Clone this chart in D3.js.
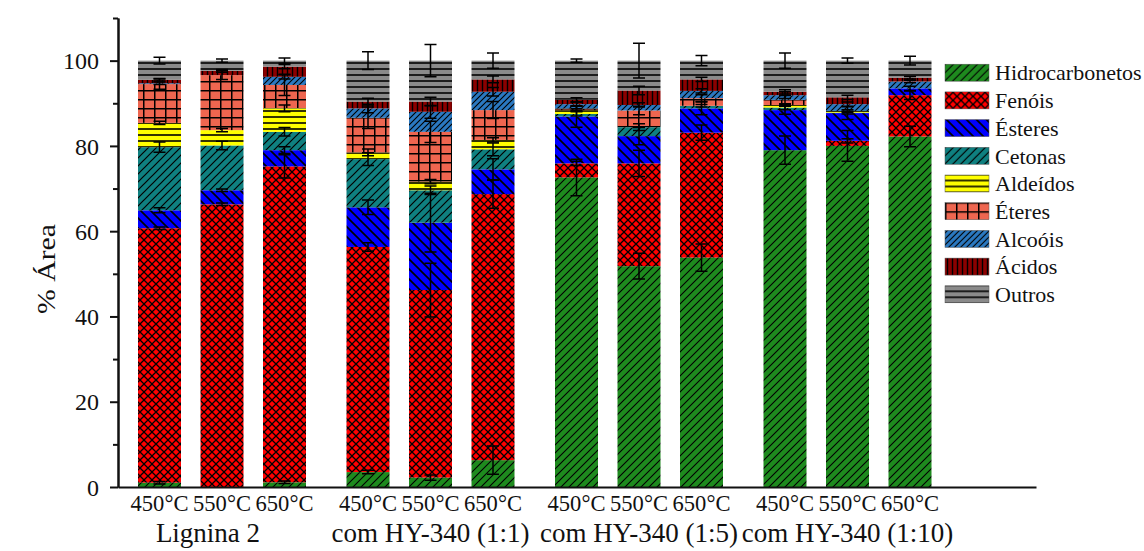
<!DOCTYPE html>
<html>
<head>
<meta charset="utf-8">
<script src="https://cdn.jsdelivr.net/npm/d3@7"></script>
<style>
  body { margin: 0; background: #fff; }
  text { font-family: "Liberation Serif", "Times New Roman", serif; fill: #111; }
</style>
</head>
<body>
<div id="chart"></div>
<script>
// categories
var groups = ["Lignina 2", "com HY-340 (1:1)", "com HY-340 (1:5)", "com HY-340 (1:10)"];
var temps = ["450°C", "550°C", "650°C"];
var series = ["Hidrocarbonetos", "Fenóis", "Ésteres", "Cetonas", "Aldeídos", "Éteres", "Alcoóis", "Ácidos", "Outros"];

// values, one per bar (group by group, 450/550/650 each)
var hidrocarbonetos = [1.0, 0.0, 1.1, 3.5, 2.2, 6.3, 72.6, 51.8, 53.8, 79.0, 80.0, 82.2];
var fenois          = [59.7, 66.3, 74.1, 52.8, 44.0, 62.4, 3.3, 24.1, 29.3, 0.0, 1.2, 9.7];
var esteres         = [4.2, 3.3, 3.8, 9.3, 15.8, 5.8, 11.0, 6.4, 5.7, 9.4, 6.5, 1.6];
var cetonas         = [14.8, 10.5, 4.3, 11.3, 7.6, 4.7, 0.6, 2.1, 0.6, 0.6, 0.1, 0.0];
var aldeidos        = [5.7, 3.6, 5.5, 1.6, 2.0, 2.2, 0.9, 0.0, 0.0, 0.6, 0.4, 0.0];
var eteres          = [9.1, 12.9, 5.5, 8.1, 11.7, 7.0, 0.4, 3.9, 1.8, 1.2, 0.0, 0.0];
var alcoois         = [0.2, 0.0, 1.9, 2.2, 4.7, 4.3, 1.0, 1.3, 1.7, 1.1, 1.6, 1.6];
var acidos          = [0.8, 1.0, 2.4, 1.6, 2.4, 2.9, 1.0, 3.4, 2.7, 0.8, 1.6, 0.9];
var outros          = [4.5, 2.4, 1.4, 9.6, 9.6, 4.4, 9.2, 7.0, 4.4, 7.3, 8.6, 4.0];

// error (± half length) at the top of each segment
var errHidro  = [0.3, 0, 0.3, 0.4, 0.6, 3.3, 4.3, 3.0, 3.2, 3.3, 3.6, 2.4];
var errFen    = [0.3, 0.3, 2.7, 1.0, 6.3, 3.3, 0.5, 3.1, 1.8, 0, 0.5, 1.0];
var errEst    = [0.6, 0.3, 0.8, 1.7, 6.9, 2.5, 2.5, 2.0, 1.5, 1.0, 1.5, 0.5];
var errCet    = [1.2, 1.0, 1.0, 1.5, 1.0, 1.5, 0.5, 0.8, 0.3, 0.5, 0.3, 0];
var errAld    = [0.4, 0.4, 0.8, 0.8, 0.5, 0.5, 0.3, 0, 0, 0.3, 0.3, 0];
var errEte    = [1.2, 1.0, 2.5, 2.5, 2.5, 2.0, 0.5, 1.0, 0.8, 1.0, 0, 0];
var errAlc    = [0.3, 0, 0.5, 1.0, 1.5, 1.0, 0.5, 0.5, 0.5, 0.8, 0.5, 0.3];
var errAci    = [0.3, 0.3, 0.5, 0.8, 1.0, 0.8, 0.5, 1.0, 0.5, 0.5, 0.5, 0.3];
var errOut    = [0.8, 0.4, 0.6, 2.1, 3.8, 1.8, 0.4, 4.1, 1.2, 1.8, 0.6, 1.0];

var yTicks = [0, 20, 40, 60, 80, 100];

var values = [hidrocarbonetos, fenois, esteres, cetonas, aldeidos, eteres, alcoois, acidos, outros];
var errors = [errHidro, errFen, errEst, errCet, errAld, errEte, errAlc, errAci, errOut];

var w = 1144, h = 551;

// build table rows for d3.stack
var rows = [];
groups.forEach(function(g, gi) {
  temps.forEach(function(t, ti) {
    var i = gi * 3 + ti;
    var r = { group: g, temp: t, idx: i };
    series.forEach(function(s, si) { r[s] = values[si][i]; });
    rows.push(r);
  });
});

var stacked = d3.stack().keys(series)(rows);

var yScale = d3.scaleLinear().domain([0, 110]).range([487, 18]);
var groupScale = d3.scalePoint().domain(groups).range([222, 847.5]);
var tempScale = d3.scalePoint().domain(temps).range([-62.5, 62.5]);
var barW = 43;
function cx(d) { return groupScale(d.group) + tempScale(d.temp); }

var svg = d3.select("#chart").append("svg")
  .attr("width", w).attr("height", h);

// fill patterns
var pat = [
  { color: "#1e8a1e", w: 8, h: 8, d: "M-2,2L2,-2M0,8L8,0M6,10L10,6", sw: 1.1 },
  { color: "#ff0000", w: 8, h: 8, d: "M0,0L8,8M8,0L0,8", sw: 1.3 },
  { color: "#0000ff", w: 10, h: 10, d: "M0,0L10,10M-2,8L2,12M8,-2L12,2", sw: 1.6 },
  { color: "#0f8080", w: 8, h: 8, d: "M-2,2L2,-2M0,8L8,0M6,10L10,6", sw: 1.2 },
  { color: "#ffff00", w: 6, h: 6, d: "M0,3L6,3", sw: 1.6 },
  { color: "#ee6650", w: 11, h: 9, d: "M0,0.7L11,0.7M0.7,0L0.7,9", sw: 1.6 },
  { color: "#2a78c0", w: 6, h: 6, d: "M-1.5,1.5L1.5,-1.5M0,6L6,0M4.5,7.5L7.5,4.5", sw: 1.1 },
  { color: "#8b0000", w: 5, h: 5, d: "M2.5,0L2.5,5", sw: 1.4 },
  { color: "#8a8a8a", w: 6, h: 6, d: "M0,3L6,3", sw: 1.6 }
];
var defs = svg.append("defs");
pat.forEach(function(p, i) {
  var pt = defs.append("pattern")
    .attr("id", "p" + i)
    .attr("patternUnits", "userSpaceOnUse")
    .attr("width", p.w).attr("height", p.h);
  pt.append("rect").attr("width", p.w).attr("height", p.h).attr("fill", p.color);
  pt.append("path").attr("d", p.d).attr("stroke", "#000").attr("stroke-width", p.sw).attr("fill", "none");
});

// bars
var layer = svg.selectAll("g.layer")
  .data(stacked)
  .enter().append("g")
  .attr("class", "layer")
  .attr("fill", function(d, i) { return "url(#p" + i + ")"; });

layer.selectAll("rect")
  .data(function(d) { return d.filter(function(s) { return s[1] - s[0] > 0; }); })
  .enter().append("rect")
  .attr("x", function(d) { return cx(d.data) - barW / 2; })
  .attr("width", barW)
  .attr("y", function(d) { return yScale(d[1]); })
  .attr("height", function(d) { return yScale(d[0]) - yScale(d[1]); });

// error bars
var errData = [];
stacked.forEach(function(s, si) {
  s.forEach(function(d) {
    var e = errors[si][d.data.idx];
    if (d[1] - d[0] > 0 && e > 0) errData.push({ x: cx(d.data), v: d[1], e: e });
  });
});
var eb = svg.append("g").attr("stroke", "#000").attr("stroke-width", 1.5).attr("fill", "none");
eb.selectAll("path")
  .data(errData)
  .enter().append("path")
  .attr("d", function(d) {
    var y1 = yScale(d.v + d.e), y0 = yScale(d.v - d.e);
    return "M" + d.x + "," + y1 + "L" + d.x + "," + y0 +
      "M" + (d.x - 6) + "," + y1 + "L" + (d.x + 6) + "," + y1 +
      "M" + (d.x - 6) + "," + y0 + "L" + (d.x + 6) + "," + y0;
  });

// y axis
var yAxis = d3.axisLeft(yScale).tickValues(yTicks).tickSize(8).tickPadding(11).tickSizeOuter(0);
var yg = svg.append("g").attr("transform", "translate(118,0)").call(yAxis);
yg.selectAll("text").style("font-size", "24px").attr("dy", "0.34em");
svg.append("g").attr("transform", "translate(118,0)")
  .call(d3.axisLeft(yScale).tickValues([10, 30, 50, 70, 90, 110]).tickSize(5).tickFormat("").tickSizeOuter(0));
svg.selectAll(".domain, .tick line").attr("stroke", "#111").attr("stroke-width", 2);

// x axis line
var xLine = d3.scaleLinear().range([118, 1036]);
svg.append("g").attr("transform", "translate(0,487)")
  .call(d3.axisBottom(xLine).tickValues([]).tickSizeOuter(0))
  .select(".domain").attr("stroke", "#111").attr("stroke-width", 2);

// category labels (slightly narrow, as in the original figure)
svg.selectAll("text.temp")
  .data(rows)
  .enter().append("text")
  .attr("class", "temp")
  .attr("transform", function(d) { return "translate(" + cx(d) + ",511) scale(0.94,1)"; })
  .attr("text-anchor", "middle")
  .style("font-size", "24px")
  .text(function(d) { return d.temp; });

svg.selectAll("text.group")
  .data(groups)
  .enter().append("text")
  .attr("class", "group")
  .attr("x", function(d) { return groupScale(d) - (d === "Lignina 2" ? 14 : 0); })
  .attr("y", 542)
  .attr("text-anchor", "middle")
  .style("font-size", "27px")
  .text(function(d) { return d; });

// y label
svg.append("text")
  .attr("transform", "translate(55,269) rotate(-90) scale(1.1,0.92)")
  .attr("text-anchor", "middle")
  .style("font-size", "27px")
  .text("% Área");

// legend
var leg = svg.append("g").selectAll("g")
  .data(series)
  .enter().append("g")
  .attr("transform", function(d, i) { return "translate(945," + (72.7 + i * 27.7) + ")"; });
leg.append("rect")
  .attr("x", 0).attr("y", -8.5)
  .attr("width", 44).attr("height", 17)
  .attr("fill", function(d, i) { return "url(#p" + i + ")"; })
  .attr("stroke", "#555").attr("stroke-width", 0.5);
leg.append("text")
  .attr("x", 50).attr("y", 0)
  .attr("dy", "0.35em")
  .style("font-size", "22px")
  .text(function(d) { return d; });
</script>
</body>
</html>
